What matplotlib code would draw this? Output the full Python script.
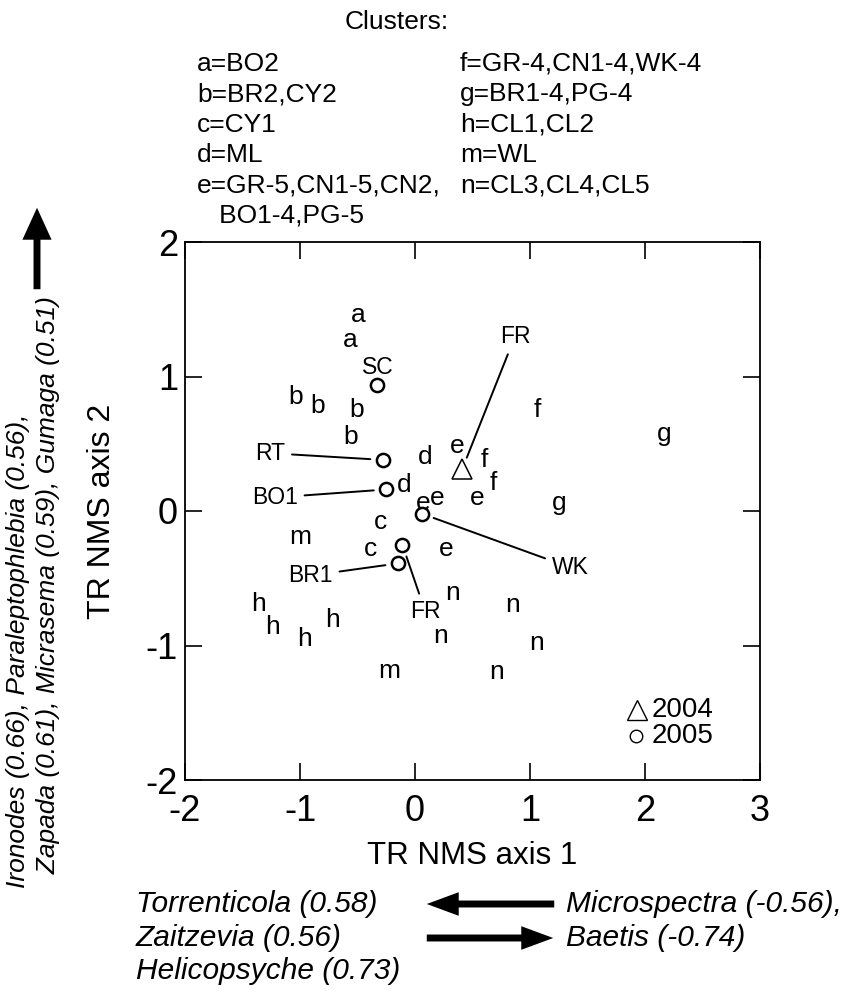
import matplotlib
matplotlib.use("Agg")
import matplotlib.pyplot as plt
from matplotlib.patches import FancyArrowPatch

plt.rcParams['font.family'] = ['Liberation Sans', 'DejaVu Sans']
plt.rcParams['axes.unicode_minus'] = False

# ---------------- data ----------------
cluster_letters = ['a', 'a',
                   'b', 'b', 'b', 'b',
                   'c', 'c',
                   'd', 'd',
                   'e', 'e', 'e', 'e', 'e',
                   'f', 'f', 'f',
                   'g', 'g',
                   'h', 'h', 'h', 'h',
                   'm', 'm',
                   'n', 'n', 'n', 'n', 'n']
cluster_x = [-0.49, -0.56,
             -1.04, -0.85, -0.51, -0.56,
             -0.30, -0.39,
             0.09, -0.09,
             0.37, 0.54, 0.07, 0.19, 0.27,
             1.06, 0.60, 0.68,
             2.17, 1.25,
             -1.36, -1.24, -0.96, -0.72,
             -1.00, -0.22,
             0.33, 0.22, 0.85, 1.06, 0.71]
cluster_y = [1.46, 1.27,
             0.85, 0.78, 0.75, 0.55,
             -0.08, -0.28,
             0.40, 0.19,
             0.48, 0.10, 0.06, 0.10, -0.28,
             0.75, 0.38, 0.21,
             0.57, 0.06,
             -0.69, -0.86, -0.95, -0.81,
             -0.19, -1.19,
             -0.61, -0.93, -0.70, -0.98, -1.20]

sites_2005_x = [-0.33, -0.28, -0.25, 0.06, -0.11, -0.15]
sites_2005_y = [0.94, 0.38, 0.16, -0.02, -0.25, -0.39]
sites_2004_x = [0.41]
sites_2004_y = [0.31]

# site labels: (name, year, index of point, label x, label y)
site_names = ['SC', 'RT', 'BO1', 'WK', 'FR', 'BR1', 'FR']
site_year = [2005, 2005, 2005, 2005, 2005, 2005, 2004]
site_index = [0, 1, 2, 3, 4, 5, 0]
site_label_x = [-0.32, -1.26, -1.22, 1.35, 0.09, -0.91, 0.87]
site_label_y = [1.07, 0.43, 0.10, -0.42, -0.75, -0.48, 1.30]
site_has_line = [False, True, True, True, True, True, True]

x_ticks = [-2, -1, 0, 1, 2, 3]
y_ticks = [-2, -1, 0, 1, 2]

legend_years = ['2004', '2005']

cluster_key_left = ['a=BO2', 'b=BR2,CY2', 'c=CY1', 'd=ML',
                    'e=GR-5,CN1-5,CN2,', '   BO1-4,PG-5']
cluster_key_right = ['f=GR-4,CN1-4,WK-4', 'g=BR1-4,PG-4', 'h=CL1,CL2',
                     'm=WL', 'n=CL3,CL4,CL5']

axis2_taxa = ['Ironodes (0.66), Paraleptophlebia (0.56),',
              '  Zapada (0.61), Micrasema (0.59), Gumaga (0.51)']
axis1_pos_taxa = ['Torrenticola (0.58)', 'Zaitzevia (0.56)',
                  'Helicopsyche (0.73)']
axis1_neg_taxa = ['Microspectra (-0.56),', 'Baetis (-0.74)']

# ---------------- figure ----------------
W, H = 865, 991
fig = plt.figure(figsize=(W / 100, H / 100), dpi=100)


def fx(px):
    return px / W


def fy(py):
    return 1 - py / H


ax = fig.add_axes([fx(185), fy(780), 575 / W, 538 / H])
ax.set_xlim(-2, 3)
ax.set_ylim(-2, 2)
ax.set_xticks(x_ticks)
ax.set_yticks(y_ticks)
ax.tick_params(direction='in', length=12, width=1.2, top=True, right=True,
               labelsize=26, colors='black')
ax.tick_params(axis='x', pad=10)
ax.tick_params(axis='y', pad=5)
for s in ax.spines.values():
    s.set_linewidth(1.3)

ax.set_xlabel('TR NMS axis 1', fontsize=22.5)
ax.xaxis.set_label_coords(0.5, -0.113)
ax.set_ylabel('TR NMS axis 2', fontsize=23, va='center')
ax.yaxis.set_label_coords((102 - 185) / 575, 0.5)

# cluster letters
for lab, x, y in zip(cluster_letters, cluster_x, cluster_y):
    ax.text(x, y, lab, fontsize=19, ha='center', va='center')

# site markers
ax.plot(sites_2005_x, sites_2005_y, 'o', ms=9.5, mfc='white', mec='black',
        mew=1.8, zorder=3, linestyle='none')
ax.plot(sites_2004_x, sites_2004_y, '^', ms=14, mfc='white', mec='black',
        mew=1.1, zorder=3, linestyle='none')

for name, yr, idx, lx, ly, has_line in zip(site_names, site_year, site_index,
                                           site_label_x, site_label_y,
                                           site_has_line):
    if yr == 2005:
        px, py = sites_2005_x[idx], sites_2005_y[idx]
    else:
        px, py = sites_2004_x[idx], sites_2004_y[idx]
    if has_line:
        ax.annotate(name, xy=(px, py), xytext=(lx, ly), fontsize=16.5,
                    ha='center', va='center',
                    arrowprops=dict(arrowstyle='-', lw=1.4, color='black',
                                    shrinkA=3, shrinkB=9))
    else:
        ax.text(lx, ly, name, fontsize=16.5, ha='center', va='center')

# legend inside the plot
ax.plot([1.93], [-1.48], '^', ms=14, mfc='white', mec='black', mew=1.0)
ax.plot([1.92], [-1.67], 'o', ms=9, mfc='white', mec='black', mew=1.0)
ax.text(2.06, -1.48, legend_years[0], fontsize=20, ha='left', va='center')
ax.text(2.06, -1.67, legend_years[1], fontsize=20, ha='left', va='center')

# cluster key at top
fig.text(fx(397), fy(22), 'Clusters:', fontsize=19, ha='center', va='center')
fig.text(fx(197), fy(52), '\n'.join(cluster_key_left), fontsize=19,
         ha='left', va='top', linespacing=1.33)
fig.text(fx(460), fy(52), '\n'.join(cluster_key_right), fontsize=19,
         ha='left', va='top', linespacing=1.33)

# rotated taxa text for axis 2 and arrow
fig.text(fx(33), fy(888), '\n'.join(axis2_taxa), fontsize=19,
         style='italic', rotation=90, ha='center', va='bottom',
         multialignment='left', linespacing=1.3)
fig.add_artist(FancyArrowPatch((fx(37), fy(292)), (fx(37), fy(205)),
                               transform=fig.transFigure,
                               arrowstyle='simple,head_length=23,head_width=21,tail_width=5',
                               mutation_scale=1, color='black', lw=0))

# bottom taxa texts and arrows
fig.text(fx(136), fy(890), '\n'.join(axis1_pos_taxa), fontsize=21.5,
         style='italic', ha='left', va='top', linespacing=1.26)
fig.text(fx(566), fy(890), '\n'.join(axis1_neg_taxa), fontsize=21.5,
         style='italic', ha='left', va='top', linespacing=1.26)
fig.add_artist(FancyArrowPatch((fx(557), fy(904)), (fx(424), fy(904)),
                               transform=fig.transFigure,
                               arrowstyle='simple,head_length=23,head_width=17,tail_width=5',
                               mutation_scale=1, color='black', lw=0))
fig.add_artist(FancyArrowPatch((fx(424), fy(938)), (fx(556), fy(938)),
                               transform=fig.transFigure,
                               arrowstyle='simple,head_length=23,head_width=17,tail_width=5',
                               mutation_scale=1, color='black', lw=0))

fig.savefig('out.png', dpi=100)
